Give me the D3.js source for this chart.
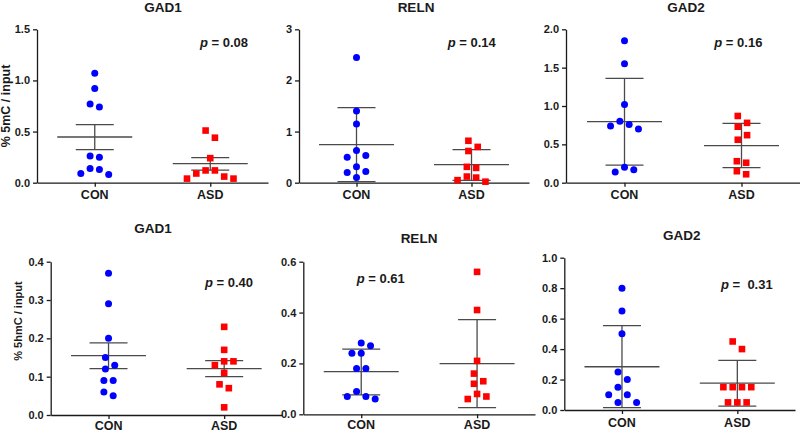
<!DOCTYPE html>
<html>
<head>
<meta charset="utf-8">
<script src="https://cdn.jsdelivr.net/npm/d3@7"></script>
<style>
  html, body { margin: 0; padding: 0; background: #fff; }
  svg text { font-family: "Liberation Sans", Arial, Helvetica, sans-serif; font-weight: bold; fill: #1a1a1a; }
</style>
</head>
<body>
<svg id="chart" width="800" height="432"></svg>
<script>
// ---------------- data ----------------
const categories = ["CON", "ASD"];
const panelTitles = ["GAD1", "RELN", "GAD2", "GAD1", "RELN", "GAD2"];
const yAxisTitles = ["% 5mC / input", "% 5hmC / input"];
const pValueLabels = ["0.08", "0.14", "0.16", "0.40", "0.61", " 0.31"];

// % 5mC / input
const con_5mC_GAD1 = [1.07, 0.92, 0.77, 0.74, 0.26, 0.25, 0.14, 0.13, 0.09, 0.08];
const asd_5mC_GAD1 = [0.51, 0.44, 0.24, 0.12, 0.12, 0.09, 0.06, 0.04, 0.04];
const con_5mC_RELN = [2.45, 1.40, 1.15, 0.63, 0.53, 0.50, 0.31, 0.22, 0.20, 0.10];
const asd_5mC_RELN = [0.82, 0.70, 0.62, 0.31, 0.29, 0.12, 0.10, 0.05, 0.02];
const con_5mC_GAD2 = [1.85, 1.55, 1.02, 0.80, 0.76, 0.74, 0.70, 0.20, 0.17, 0.14];
const asd_5mC_GAD2 = [0.87, 0.78, 0.73, 0.62, 0.56, 0.28, 0.26, 0.15, 0.11];
// % 5hmC / input
const con_5hmC_GAD1 = [0.37, 0.29, 0.20, 0.15, 0.13, 0.12, 0.09, 0.09, 0.06, 0.05];
const asd_5hmC_GAD1 = [0.23, 0.17, 0.14, 0.14, 0.13, 0.11, 0.08, 0.07, 0.02];
const con_5hmC_RELN = [0.28, 0.27, 0.24, 0.24, 0.18, 0.18, 0.09, 0.07, 0.07, 0.06];
const asd_5hmC_RELN = [0.56, 0.41, 0.21, 0.16, 0.13, 0.12, 0.08, 0.07, 0.06];
const con_5hmC_GAD2 = [0.80, 0.65, 0.50, 0.25, 0.20, 0.15, 0.10, 0.10, 0.05, 0.05];
const asd_5hmC_GAD2 = [0.45, 0.40, 0.15, 0.15, 0.15, 0.15, 0.05, 0.05, 0.05];

// summary lines: [CON, ASD] per panel
const centerLines = [[0.447, 0.186], [0.743, 0.352], [0.796, 0.483], [0.155, 0.121], [0.168, 0.199], [0.284, 0.177]];
const errorLow    = [[0.323, 0.122], [0.020, 0.046], [0.230, 0.196], [0.121, 0.100], [0.076, 0.026], [0.015, 0.026]];
const errorHigh   = [[0.567, 0.245], [1.470, 0.646], [1.360, 0.774], [0.188, 0.142], [0.256, 0.372], [0.554, 0.326]];

// y ticks
const yTicks = [[0, 0.5, 1.0, 1.5], [0, 1, 2, 3], [0, 0.5, 1.0, 1.5, 2.0], [0, 0.1, 0.2, 0.3, 0.4], [0, 0.2, 0.4, 0.6], [0, 0.2, 0.4, 0.6, 0.8, 1.0]];
const yTickLabels = [["0.0", "0.5", "1.0", "1.5"], ["0", "1", "2", "3"], ["0.0", "0.5", "1.0", "1.5", "2.0"],
                     ["0.0", "0.1", "0.2", "0.3", "0.4"], ["0.0", "0.2", "0.4", "0.6"], ["0.0", "0.2", "0.4", "0.6", "0.8", "1.0"]];

const seriesCON = [con_5mC_GAD1, con_5mC_RELN, con_5mC_GAD2, con_5hmC_GAD1, con_5hmC_RELN, con_5hmC_GAD2];
const seriesASD = [asd_5mC_GAD1, asd_5mC_RELN, asd_5mC_GAD2, asd_5hmC_GAD1, asd_5hmC_RELN, asd_5hmC_GAD2];

// ---------------- layout ----------------
const layout = [
  { l: 37,    r: 268, t: 29.3,  b: 182.7, tx: 163,   ty: 12,  px: 200,   py: 47.3, cy: 198.5 },
  { l: 299,   r: 529, t: 29.3,  b: 182.7, tx: 416,   ty: 12,  px: 447.7, py: 47.3, cy: 198.5 },
  { l: 566,   r: 800, t: 29.3,  b: 182.7, tx: 686,   ty: 12,  px: 714.3, py: 47.3, cy: 198.5 },
  { l: 50.7,  r: 282, t: 261.7, b: 415,   tx: 153,   ty: 233, px: 205,   py: 286.7, cy: 429.5 },
  { l: 303.3, r: 535, t: 261.7, b: 414.3, tx: 419,   ty: 243, px: 356.7, py: 283.3, cy: 429.3 },
  { l: 564.3, r: 795, t: 257.7, b: 410,   tx: 681.7, ty: 240, px: 721,   py: 289,   cy: 427 }
];
const yTitlePos = [{ x: 10, y: 106, size: 12.5 }, { x: 22, y: 321, size: 11 }];

const svg = d3.select("#chart");
const BLUE = "#0000ff", RED = "#ff0000", LINE = "#4a4a4a";

function swarm(values, y, D, step) {
  const pts = values.map((v, i) => ({ v, i, py: y(v), off: 0 }));
  const order = pts.slice().sort((a, b) => a.py - b.py || a.i - b.i);
  const placed = [];
  for (const p of order) {
    for (let k = 0; k < 40; k++) {
      const off = k === 0 ? 0 : (k % 2 === 1 ? Math.ceil(k / 2) * step : -Math.ceil(k / 2) * step);
      if (!placed.some(q => Math.abs(q.off - off) < step * 0.5 && Math.abs(q.py - p.py) < D)) {
        p.off = off; placed.push(p); break;
      }
    }
  }
  let cl = [order[0]];
  const clusters = [cl];
  for (let j = 1; j < order.length; j++) {
    if (order[j].py - order[j - 1].py < D) cl.push(order[j]);
    else { cl = [order[j]]; clusters.push(cl); }
  }
  clusters.forEach(c => { const m = d3.mean(c, p => p.off); c.forEach(p => p.off -= m); });
  return pts;
}

layout.forEach((L, pi) => {
  const g = svg.append("g");
  const ticks = yTicks[pi];
  const y = d3.scaleLinear().domain([0, ticks[ticks.length - 1]]).range([L.b, L.t]);
  const x = d3.scalePoint().domain(categories).range([L.l, L.r]).padding(0.5);

  // axes
  const ya = g.append("g").attr("transform", `translate(${L.l},0)`)
    .call(d3.axisLeft(y).tickValues(ticks).tickFormat((d, i) => yTickLabels[pi][i]).tickSize(4).tickSizeOuter(0).tickPadding(3));
  ya.selectAll("text").style("font-size", "11px").attr("fill", "#1a1a1a");
  const xa = g.append("g").attr("transform", `translate(0,${L.b})`)
    .call(d3.axisBottom(x).tickSize(4).tickSizeOuter(0).tickPadding(5));
  xa.selectAll("text").remove();
  [ya, xa].forEach(a => { a.selectAll("path,line").attr("stroke", "#1a1a1a").attr("stroke-width", 1.3); a.attr("font-family", null); });
  categories.forEach(c => {
    g.append("text").attr("x", x(c)).attr("y", L.cy).attr("text-anchor", "middle").style("font-size", "12.5px").text(c);
  });

  // title
  g.append("text").attr("x", L.tx).attr("y", L.ty).attr("text-anchor", "middle").style("font-size", "13.5px").text(panelTitles[pi]);
  // p value
  const pt = g.append("text").attr("x", L.px).attr("y", L.py).style("font-size", "13px").style("white-space", "pre");
  pt.append("tspan").attr("font-style", "italic").text("p");
  pt.append("tspan").text(" = " + pValueLabels[pi]);

  // summary lines + points
  [seriesCON[pi], seriesASD[pi]].forEach((vals, gi) => {
    const cx = x(categories[gi]);
    const lo = errorLow[pi][gi], hi = errorHigh[pi][gi], m = centerLines[pi][gi];
    g.append("line").attr("x1", cx).attr("x2", cx).attr("y1", y(lo)).attr("y2", y(hi)).attr("stroke", LINE).attr("stroke-width", 1.3);
    [lo, hi].forEach(v => g.append("line").attr("x1", cx - 19).attr("x2", cx + 19).attr("y1", y(v)).attr("y2", y(v)).attr("stroke", LINE).attr("stroke-width", 1.3));
    g.append("line").attr("x1", cx - 37.5).attr("x2", cx + 37.5).attr("y1", y(m)).attr("y2", y(m)).attr("stroke", LINE).attr("stroke-width", 1.3);

    const pts = swarm(vals, y, 8.5, 9.3);
    if (gi === 0) {
      g.selectAll(null).data(pts).enter().append("circle")
        .attr("cx", d => cx + d.off).attr("cy", d => d.py).attr("r", 3.5).attr("fill", BLUE);
    } else {
      g.selectAll(null).data(pts).enter().append("rect")
        .attr("x", d => cx + d.off - 3.3).attr("y", d => d.py - 3.3).attr("width", 6.6).attr("height", 6.6).attr("fill", RED);
    }
  });
});

// y axis titles
yAxisTitles.forEach((t, i) => {
  const p = yTitlePos[i];
  svg.append("text").attr("transform", `translate(${p.x},${p.y}) rotate(-90)`).attr("text-anchor", "middle")
    .style("font-size", p.size + "px").text(t);
});
</script>
</body>
</html>
